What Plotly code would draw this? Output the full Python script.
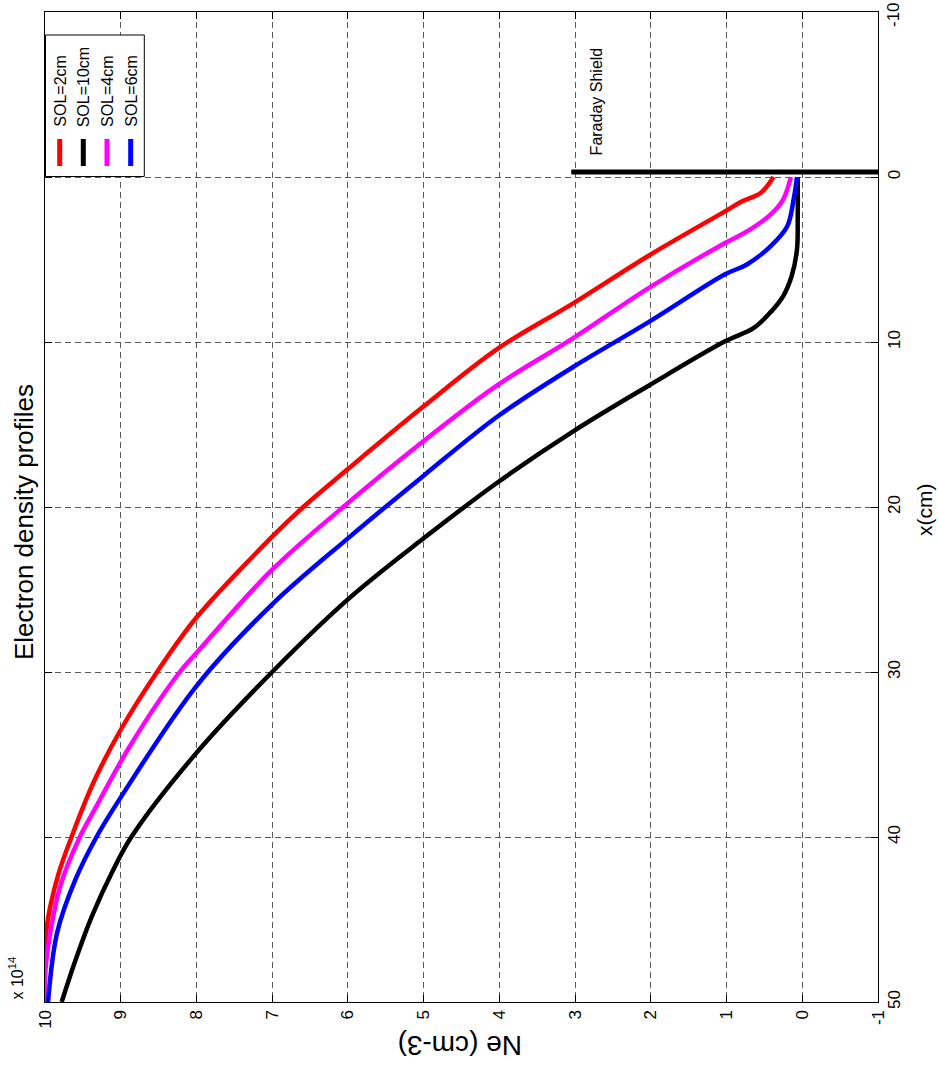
import plotly.graph_objects as go

# ---------------- data ----------------
# x position (cm) and electron density Ne (x 1e14 cm^-3)
red_x = [0, 0.97, 1.48, 2.08, 4.77, 7.64, 10.4, 13.9, 17.7, 20, 21.8, 26.7, 30, 33.5, 36.7, 40, 42.2, 44.2, 45.6, 47, 50]
red_ne = [0.38, 0.55, 0.80, 1.02, 2.03, 3.02, 4.02, 5.0, 6.0, 6.59, 7.0, 8.0, 8.52, 9.0, 9.36, 9.65, 9.82, 9.93, 9.98, 10.0, 10.0]

black_x = [0, 2.6, 4.4, 6.0, 7.2, 8.1, 9.15, 9.96, 12.65, 15.4, 18.5, 21.9, 25.6, 30, 34.9, 40, 42.0, 44.8, 47.5, 50]
black_ne = [0.06, 0.06, 0.07, 0.14, 0.25, 0.40, 0.64, 1.02, 2.03, 3.02, 4.02, 5.0, 6.0, 7.0, 8.0, 8.86, 9.1, 9.38, 9.6, 9.78]

magenta_x = [0, 1.38, 2.28, 3.3, 4.0, 6.73, 9.75, 12.6, 16.0, 19.76, 23.8, 28.85, 30, 34.5, 38.3, 40, 43, 45.8, 47.4, 48.5, 50]
magenta_ne = [0.15, 0.255, 0.42, 0.73, 1.02, 2.03, 3.02, 4.02, 5.0, 6.0, 7.0, 8.0, 8.22, 8.88, 9.34, 9.54, 9.8, 9.93, 9.98, 10.0, 10.0]

blue_x = [0, 1.38, 3.0, 4.2, 5.3, 5.9, 8.8, 11.5, 14.5, 18.1, 21.9, 25.9, 30.85, 37.6, 40, 42.6, 45.8, 50]
blue_ne = [0.07, 0.115, 0.2, 0.42, 0.73, 1.02, 2.03, 3.02, 4.02, 5.0, 6.0, 7.0, 8.0, 9.0, 9.32, 9.6, 9.84, 9.96]

shield_x = [-0.3, -0.3]
shield_ne = [3.05, -1.0]

series_names = ["SOL=2cm", "SOL=10cm", "SOL=4cm", "SOL=6cm"]
series_colors = ["#ff0000", "#000000", "#ff00ff", "#0000ff"]

ne_ticks = [10, 9, 8, 7, 6, 5, 4, 3, 2, 1, 0, -1]
ne_ticklabels = ["10", "9", "8", "7", "6", "5", "4", "3", "2", "1", "0", "-1"]
x_ticks = [-10, 0, 10, 20, 30, 40, 50]
x_ticklabels = ["-10", "0", "10", "20", "30", "40", "50"]

FONT = "Liberation Sans, Arial, sans-serif"
W, H = 939, 1066
L, R, T, B = 45, 61, 12, 64
PW, PH = W - L - R, H - T - B


def fx(px):
    return (px - L) / PW


def fy(py):
    return (H - B - py) / PH


fig = go.Figure()
data = [(red_x, red_ne), (black_x, black_ne), (magenta_x, magenta_ne), (blue_x, blue_ne)]
for (xs, ns), name, col in zip(data, series_names, series_colors):
    fig.add_trace(go.Scatter(x=ns, y=xs, mode="lines", name=name,
                             line=dict(color=col, width=4.5, shape="spline", smoothing=1.0),
                             showlegend=False))
fig.add_trace(go.Scatter(x=shield_ne, y=shield_x, mode="lines", name="Faraday Shield",
                         line=dict(color="black", width=5), showlegend=False))

grid = dict(showgrid=True, gridcolor="rgba(60,60,60,0.85)", gridwidth=1, griddash="6px,4px",
            zeroline=False, showline=True, linecolor="black", linewidth=1.3, mirror="allticks",
            ticks="inside", ticklen=7, tickcolor="black", ticklabeloverflow="allow", automargin=False,
            tickfont=dict(family=FONT, size=17, color="black"))

fig.update_xaxes(range=[10, -1], tickmode="array", tickvals=ne_ticks, ticktext=ne_ticklabels,
                 tickangle=-90, **grid)
# the top label (-10) sits at the page edge; it is drawn as an annotation nudged inside the page
fig.update_yaxes(range=[50, -10], tickmode="array", tickvals=x_ticks[1:],
                 ticktext=x_ticklabels[1:], tickangle=-90, side="right", **grid)

shapes = []
# legend box
shapes.append(dict(type="rect", xref="paper", yref="paper", x0=fx(45.5), x1=fx(144.3), y0=fy(176.5), y1=fy(35),
                   line=dict(color="black", width=1), fillcolor="white", layer="above"))
annotations = []
leg_x = [59.7, 83.3, 107.0, 130.7]
for px, name, col in zip(leg_x, series_names, series_colors):
    shapes.append(dict(type="line", xref="paper", yref="paper", x0=fx(px), x1=fx(px), y0=fy(139), y1=fy(166),
                       line=dict(color=col, width=5), layer="above"))
    annotations.append(dict(text=name, xref="paper", yref="paper", x=fx(px), y=fy(129), xanchor="center",
                            yanchor="bottom", textangle=-90, showarrow=False,
                            font=dict(family=FONT, size=16, color="black")))

annotations += [
    dict(text=x_ticklabels[0], xref="paper", yref="paper", x=fx(893), y=fy(15), xanchor="center",
         yanchor="middle", textangle=-90, showarrow=False, font=dict(family=FONT, size=17, color="black")),
    dict(text="Electron density profiles", xref="paper", yref="paper", x=fx(24), y=fy(522), xanchor="center",
         yanchor="middle", textangle=-90, showarrow=False, font=dict(family=FONT, size=26, color="black")),
    dict(text="x(cm)", xref="paper", yref="paper", x=fx(924), y=fy(510), xanchor="center",
         yanchor="middle", textangle=-90, showarrow=False, font=dict(family=FONT, size=21, color="black")),
    dict(text="Ne (cm-3)", xref="paper", yref="paper", x=fx(460), y=fy(1046), xanchor="center",
         yanchor="middle", textangle=180, showarrow=False, font=dict(family=FONT, size=28, color="black")),
    dict(text="x 10<sup>14</sup>", xref="paper", yref="paper", x=fx(16), y=fy(1002), xanchor="center",
         yanchor="bottom", textangle=-90, showarrow=False, font=dict(family=FONT, size=16, color="black")),
    dict(text="Faraday Shield", xref="x", yref="y", x=2.72, y=-4.6, xanchor="center",
         yanchor="middle", textangle=-90, showarrow=False, font=dict(family=FONT, size=16, color="black")),
]

fig.update_layout(width=W, height=H, margin=dict(l=L, r=R, t=T, b=B, pad=0, autoexpand=False),
                  plot_bgcolor="white", paper_bgcolor="white", showlegend=False,
                  shapes=shapes, annotations=annotations,
                  font=dict(family=FONT, color="black"))

fig.write_html("out.html")
